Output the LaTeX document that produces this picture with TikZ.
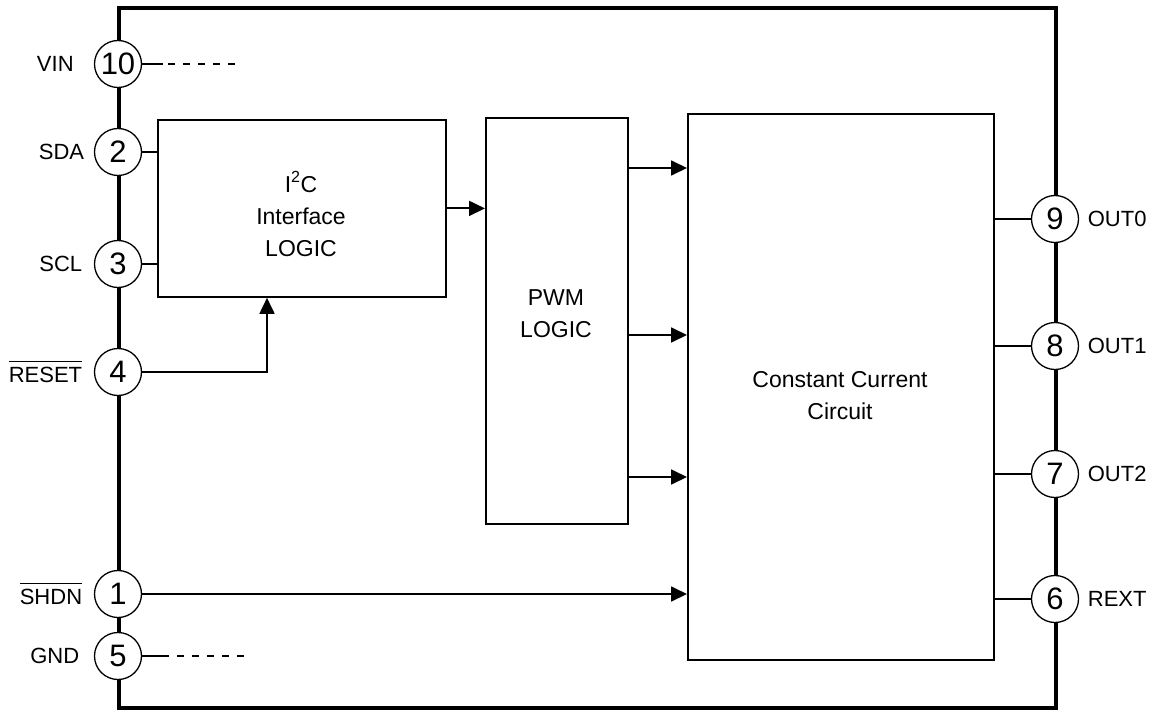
\documentclass[tikz,border=0pt]{standalone}
\usepackage{fontspec}
\setmainfont{Liberation Sans}
\usetikzlibrary{arrows.meta}
\newcommand\barsig[1]{\sbox0{#1}\rlap{\rule[\dimexpr\ht0+5pt\relax]{\wd0}{1.3pt}}\box0}
\begin{document}
\begin{tikzpicture}[x=1pt,y=-1pt,
    pinc/.style={draw,circle,fill=white,line width=1.3pt,minimum size=47pt,inner sep=0pt,font=\fontsize{31}{31}\selectfont},
    pinname/.style={inner sep=0pt,font=\fontsize{22}{22}\selectfont},
    blk/.style={draw,line width=1.8pt,anchor=north west,inner sep=0pt},
    blktext/.style={align=center,inner sep=0pt,font=\fontsize{23}{32}\selectfont},
    sig/.style={line width=1.8pt,-{Triangle[length=16pt,width=15pt]}},
    stub/.style={line width=1.4pt}]
  \useasboundingbox (0,0) rectangle (1155,711);
  % package outline
  \draw[line width=4pt] (118.5,8.5) rectangle (1055.5,707.5);

  % functional blocks
  \node[blk,minimum width=288pt,minimum height=177pt] (i2c) at (157,119) {};
  \node[blk,minimum width=142pt,minimum height=406pt] (pwm) at (485,117) {};
  \node[blk,minimum width=306pt,minimum height=546pt] (ccc) at (687,113) {};
  \node[blktext] (i2ctxt) at (301,214) {I\textsuperscript{2}C\\Interface\\LOGIC};
  \node[blktext] (pwmtxt) at (556,314) {PWM\\LOGIC};
  \node[blktext] (ccctxt) at (840,396) {Constant Current\\Circuit};

  % pins
  \foreach \n/\num/\y in {vin/10/64,sda/2/152,scl/3/264,rst/4/372,shdn/1/594,gnd/5/656}
    \node[pinc] (\n) at (118,\y) {\num};
  \foreach \n/\num/\y in {out0/9/219,out1/8/346,out2/7/474,rext/6/599}
    \node[pinc] (\n) at (1055,\y) {\num};
  \foreach \n/\t/\g in {vin/VIN/20,sda/SDA/9.5,scl/SCL/11.5,rst/{\barsig{RESET}}/11.5,shdn/{\barsig{SHDN}}/11.5,gnd/GND/14.5}
    \node[pinname,anchor=east] (\n lbl) at ([xshift=-\g pt]\n.west) {\t};
  \foreach \n/\t in {out0/OUT0,out1/OUT1,out2/OUT2,rext/REXT}
    \node[pinname,anchor=west] (\n lbl) at ([xshift=8.5pt]\n.east) {\t};

  % signal paths
  \coordinate (rsttap) at ([xshift=110pt]i2c.south west);
  \coordinate (vinend) at (236,64);
  \coordinate (gndend) at (244,656);
  \draw[sig] (i2c.east) -- (i2c.east -| pwm.west);
  \foreach \y in {168,335,477}
    \draw[sig] (pwm.east |- 0,\y) -- (ccc.west |- 0,\y);
  \draw[sig] (rst) -| (rsttap);
  \draw[sig] (shdn) -- (shdn -| ccc.west);
  \draw[stub] (sda) -- (sda -| i2c.west);
  \draw[stub] (scl) -- (scl -| i2c.west);
  \foreach \n in {out0,out1,out2,rext}
    \draw[stub] (ccc.east |- \n) -- (\n);
  \draw[stub,dash pattern=on 21pt off 5pt on 7pt off 8pt on 7pt off 8pt on 7pt off 8pt on 7pt off 8pt on 7pt off 20pt] (vin) -- (vinend);
  \draw[stub,dash pattern=on 27pt off 8pt on 7pt off 8pt on 7pt off 8pt on 7pt off 8pt on 7pt off 8pt on 7pt off 20pt] (gnd) -- (gndend);
\end{tikzpicture}
\end{document}
